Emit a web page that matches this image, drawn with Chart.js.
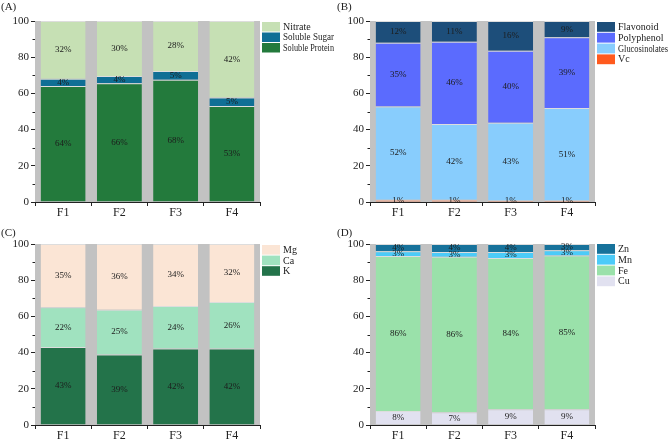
<!DOCTYPE html>
<html>
<head>
<meta charset="utf-8">
<script src="https://cdn.jsdelivr.net/npm/chart.js@4.4.0/dist/chart.umd.min.js"></script>
<style>
  html, body { margin: 0; padding: 0; background: #fff; }
  #wrap { position: relative; width: 669px; height: 440px; }
  .panel { position: absolute; height: 220px; }
  .tag { position: absolute; font: 11px "Liberation Serif", serif; color: #222; }
</style>
</head>
<body>
<div id="wrap">
  <div class="panel" style="left:0;top:0;width:335px"><canvas id="chartA"></canvas></div>
  <div class="panel" style="left:335px;top:0;width:334px"><canvas id="chartB"></canvas></div>
  <div class="panel" style="left:0;top:220px;width:335px"><canvas id="chartC"></canvas></div>
  <div class="panel" style="left:335px;top:220px;width:334px"><canvas id="chartD"></canvas></div>
  <div class="tag" style="left:1px;top:0px">(A)</div>
  <div class="tag" style="left:337px;top:0px">(B)</div>
  <div class="tag" style="left:1px;top:226px">(C)</div>
  <div class="tag" style="left:337px;top:226px">(D)</div>
</div>
<script>
/* ── Data ───────────────────────────────────────────────────────────── */
const CATEGORIES = ["F1", "F2", "F3", "F4"];

// (A) bottom → top
const PROTEIN = [64.1, 65.6, 67.6, 53.0];
const SUGAR   = [4.0, 4.0, 4.8, 4.8];
const NITRATE = [31.9, 30.4, 27.6, 42.2];

// (B)
const VC           = [1.2, 1.2, 0.8, 0.8];
const GLUCOSINOL   = [51.6, 41.9, 43.0, 51.1];
const POLYPHENOL   = [35.2, 45.5, 39.8, 39.1];
const FLAVONOID    = [12.0, 11.4, 16.4, 9.0];

// (C)
const K_VAL  = [43.1, 39.0, 42.2, 42.2];
const CA_VAL = [21.9, 24.7, 23.6, 25.8];
const MG_VAL = [35.0, 36.3, 34.2, 32.0];

// (D)
const CU_VAL = [7.7, 7.0, 8.7, 8.7];
const FE_VAL = [85.7, 86.0, 83.6, 84.9];
const MN_VAL = [2.6, 2.6, 3.3, 3.0];
const ZN_VAL = [4.0, 4.4, 4.4, 3.4];

const Y_TICKS = [0, 20, 40, 60, 80, 100];

/* ── Style ──────────────────────────────────────────────────────────── */
const SERIF = '"Liberation Serif", "DejaVu Serif", serif';
const PLOT_BG = "#c2c2c2";

/* ── Plugins ────────────────────────────────────────────────────────── */
const plotBg = {
  id: "plotBg",
  beforeDatasetsDraw(chart) {
    const { ctx, chartArea: a } = chart;
    ctx.save();
    ctx.fillStyle = PLOT_BG;
    ctx.fillRect(a.left, a.top, a.right - a.left, a.bottom - a.top);
    ctx.restore();
  },
};

const segLabels = {
  id: "segLabels",
  afterDatasetsDraw(chart) {
    const { ctx } = chart;
    ctx.save();
    ctx.font = `9px ${SERIF}`;
    ctx.fillStyle = "#1c1c1c";
    ctx.textAlign = "center";
    ctx.textBaseline = "middle";
    chart.data.datasets.forEach((ds, i) => {
      chart.getDatasetMeta(i).data.forEach((bar, j) => {
        const y = (bar.y + bar.base) / 2;
        ctx.fillText(Math.round(ds.data[j]) + "%", bar.x, y);
      });
    });
    ctx.restore();
  },
};

const minorTicks = {
  id: "minorTicks",
  afterDraw(chart) {
    const { ctx } = chart;
    const y = chart.scales.y;
    ctx.save();
    ctx.strokeStyle = "#222";
    ctx.lineWidth = 1;
    for (let v = 10; v < 100; v += 20) {
      const py = Math.round(y.getPixelForValue(v)) + 0.5;
      ctx.beginPath();
      ctx.moveTo(y.right - 2.5, py);
      ctx.lineTo(y.right, py);
      ctx.stroke();
    }
    ctx.restore();
  },
};

// legend on the right, top series first; long names squeezed to fit the panel
const sideLegend = {
  id: "sideLegend",
  afterDraw(chart, args, opts) {
    const { ctx, chartArea: a, width } = chart;
    const sets = chart.data.datasets.slice().reverse();
    ctx.save();
    ctx.font = `10px ${SERIF}`;
    ctx.textBaseline = "middle";
    ctx.textAlign = "left";
    sets.forEach((ds, i) => {
      const top = a.top + opts.offset + i * opts.step;
      ctx.fillStyle = ds.backgroundColor;
      ctx.fillRect(a.right + 2, top, 18, opts.step - 1);
      ctx.fillStyle = "#1c1c1c";
      const x = a.right + 23;
      ctx.fillText(ds.label, x, top + (opts.step - 1) / 2 + 0.5, width - x - 1);
    });
    ctx.restore();
  },
};

/* ── Chart factory ──────────────────────────────────────────────────── */
function makeChart(id, series, padTop, xHeight, padRight, legendOffset, legendStep) {
  const datasets = series.map(([label, data, color]) => ({
    label,
    data,
    backgroundColor: color,
    borderColor: "rgba(255,255,255,0.45)",
    borderWidth: { top: 1, left: 0, right: 0, bottom: 0 },
    borderSkipped: false,
    barPercentage: 0.8,
    categoryPercentage: 1,
  }));

  return new Chart(document.getElementById(id), {
    type: "bar",
    data: { labels: CATEGORIES, datasets },
    options: {
      responsive: true,
      maintainAspectRatio: false,
      animation: false,
      layout: { padding: { top: padTop, right: padRight, left: 0, bottom: 0 } },
      plugins: {
        legend: { display: false },
        tooltip: { enabled: false },
        sideLegend: { offset: legendOffset, step: legendStep },
      },
      scales: {
        x: {
          stacked: true,
          grid: { drawOnChartArea: false, tickLength: 4, color: "#222" },
          border: { color: "#222" },
          ticks: { font: { family: SERIF, size: 12 }, color: "#222", padding: 0 },
          afterFit: (s) => { s.height = xHeight; },
        },
        y: {
          stacked: true,
          min: 0,
          max: 100,
          afterBuildTicks: (s) => { s.ticks = Y_TICKS.map((v) => ({ value: v })); },
          grid: { drawOnChartArea: false, tickLength: 4, color: "#222" },
          border: { color: "#222" },
          ticks: { font: { family: SERIF, size: 11 }, color: "#222", padding: 2 },
          afterFit: (s) => { s.width = 35; },
        },
      },
    },
    plugins: [plotBg, segLabels, minorTicks, sideLegend],
  });
}

/* ── Build ──────────────────────────────────────────────────────────── */
makeChart("chartA", [
  ["Soluble Protein", PROTEIN, "#237a3c"],
  ["Soluble Sugar",   SUGAR,   "#0f6f95"],
  ["Nitrate",         NITRATE, "#c6e0b4"],
], 21, 18, 75, 1, 10.5);

makeChart("chartB", [
  ["Vc",             VC,         "#ff5a1e"],
  ["Glucosinolates", GLUCOSINOL, "#88cdfd"],
  ["Polyphenol",     POLYPHENOL, "#5b6bfe"],
  ["Flavonoid",      FLAVONOID,  "#1d4e7a"],
], 21, 18, 74, 1, 10.8);

makeChart("chartC", [
  ["K",  K_VAL,  "#23734a"],
  ["Ca", CA_VAL, "#a0e2bf"],
  ["Mg", MG_VAL, "#fbe5d5"],
], 24, 15, 75, 1, 10.6);

makeChart("chartD", [
  ["Cu", CU_VAL, "#e1e1f0"],
  ["Fe", FE_VAL, "#9ae1aa"],
  ["Mn", MN_VAL, "#4ccbf8"],
  ["Zn", ZN_VAL, "#17729b"],
], 24, 15, 74, 0, 10.8);
</script>
</body>
</html>
